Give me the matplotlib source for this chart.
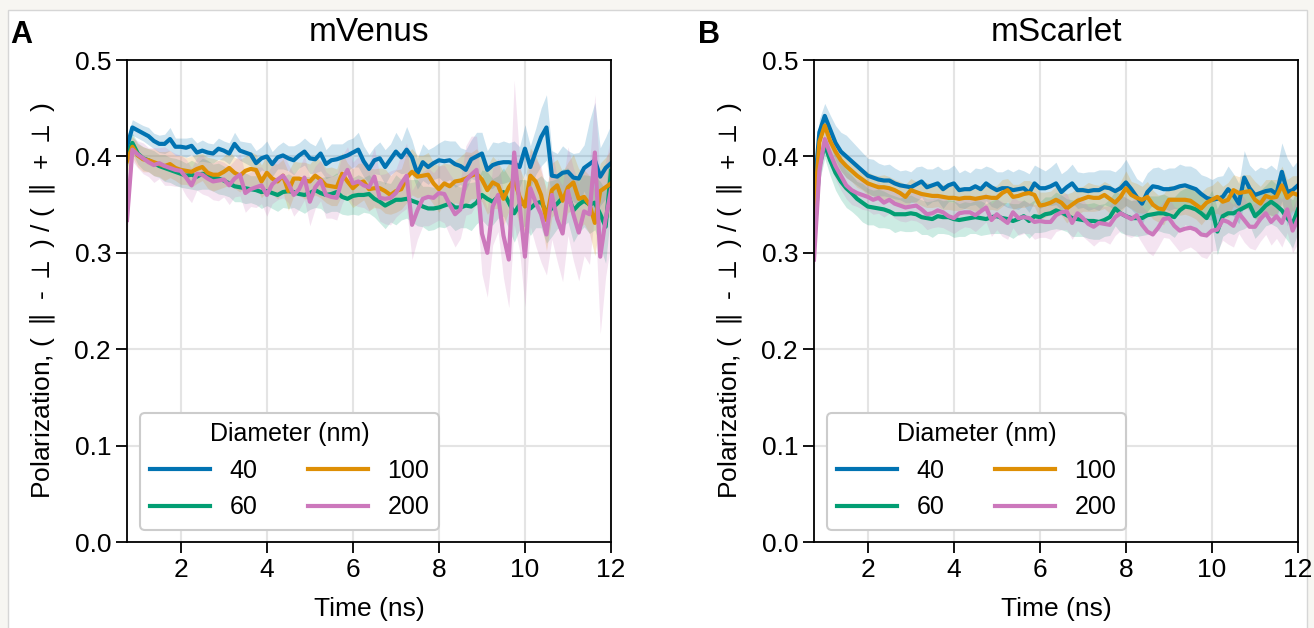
import numpy as np
import matplotlib
matplotlib.use('Agg')
import matplotlib.pyplot as plt
from matplotlib.patches import Rectangle

plt.rcParams['font.family'] = ['Liberation Sans', 'DejaVu Sans']

# time axis (ns), one sample every 0.125 ns
time_ns = np.linspace(0.75, 12.0, 91)
diameters = ['40', '60', '100', '200']
colors = ['#0173b2', '#029e73', '#de8f05', '#cc78bc']

# ---- mVenus: mean polarization ----
venus_40 = [0.410, 0.430, 0.427, 0.424, 0.421, 0.416, 0.413, 0.413, 0.418, 0.410,
            0.410, 0.409, 0.411, 0.404, 0.406, 0.404, 0.403, 0.408, 0.406, 0.403,
            0.413, 0.406, 0.404, 0.402, 0.393, 0.398, 0.400, 0.392, 0.399, 0.401,
            0.398, 0.396, 0.401, 0.405, 0.398, 0.397, 0.403, 0.392, 0.396, 0.397,
            0.399, 0.401, 0.404, 0.407, 0.395, 0.387, 0.396, 0.398, 0.389, 0.397,
            0.405, 0.399, 0.407, 0.399, 0.382, 0.394, 0.389, 0.393, 0.396, 0.395,
            0.396, 0.392, 0.390, 0.386, 0.397, 0.400, 0.403, 0.386, 0.391, 0.393,
            0.394, 0.394, 0.393, 0.389, 0.408, 0.389, 0.405, 0.420, 0.430, 0.380,
            0.379, 0.383, 0.384, 0.378, 0.377, 0.388, 0.392, 0.396, 0.379, 0.388,
            0.393]
venus_60 = [0.400, 0.414, 0.403, 0.398, 0.396, 0.393, 0.390, 0.388, 0.386, 0.384,
            0.382, 0.380, 0.381, 0.379, 0.382, 0.381, 0.378, 0.377, 0.375, 0.372,
            0.369, 0.368, 0.367, 0.366, 0.365, 0.363, 0.364, 0.362, 0.360, 0.363,
            0.364, 0.363, 0.361, 0.360, 0.362, 0.365, 0.362, 0.360, 0.361, 0.363,
            0.358, 0.356, 0.359, 0.360, 0.360, 0.361, 0.356, 0.353, 0.349, 0.352,
            0.355, 0.355, 0.356, 0.354, 0.352, 0.348, 0.346, 0.346, 0.347, 0.349,
            0.351, 0.347, 0.347, 0.349, 0.348, 0.352, 0.360, 0.356, 0.353, 0.358,
            0.363, 0.352, 0.341, 0.350, 0.352, 0.346, 0.351, 0.353, 0.342, 0.346,
            0.351, 0.357, 0.360, 0.344, 0.350, 0.354, 0.350, 0.352, 0.340, 0.327,
            0.385]
venus_100 = [0.395, 0.410, 0.401, 0.397, 0.396, 0.394, 0.392, 0.390, 0.392, 0.388,
             0.386, 0.385, 0.384, 0.387, 0.389, 0.383, 0.381, 0.381, 0.384, 0.388,
             0.383, 0.380, 0.385, 0.387, 0.386, 0.374, 0.383, 0.377, 0.374, 0.380,
             0.364, 0.377, 0.377, 0.375, 0.374, 0.380, 0.376, 0.370, 0.369, 0.368,
             0.382, 0.374, 0.367, 0.372, 0.374, 0.366, 0.367, 0.367, 0.364, 0.360,
             0.364, 0.366, 0.378, 0.384, 0.379, 0.380, 0.381, 0.372, 0.366, 0.372,
             0.369, 0.374, 0.375, 0.377, 0.380, 0.382, 0.376, 0.365, 0.373, 0.370,
             0.356, 0.368, 0.376, 0.358, 0.348, 0.380, 0.374, 0.360, 0.334, 0.365,
             0.370, 0.354, 0.368, 0.373, 0.356, 0.358, 0.350, 0.331, 0.364, 0.368,
             0.372]
venus_200 = [0.334, 0.407, 0.402, 0.398, 0.394, 0.391, 0.393, 0.390, 0.388, 0.386,
             0.385, 0.378, 0.370, 0.382, 0.381, 0.377, 0.374, 0.375, 0.376, 0.370,
             0.377, 0.381, 0.362, 0.366, 0.368, 0.370, 0.360, 0.371, 0.376, 0.380,
             0.372, 0.360, 0.366, 0.378, 0.353, 0.368, 0.375, 0.360, 0.358, 0.357,
             0.376, 0.386, 0.372, 0.374, 0.370, 0.368, 0.379, 0.357, 0.356, 0.357,
             0.362, 0.372, 0.380, 0.329, 0.344, 0.356, 0.358, 0.357, 0.362, 0.361,
             0.350, 0.340, 0.345, 0.375, 0.381, 0.386, 0.320, 0.300, 0.348, 0.360,
             0.318, 0.293, 0.404, 0.350, 0.296, 0.367, 0.352, 0.340, 0.319, 0.360,
             0.335, 0.320, 0.364, 0.340, 0.321, 0.343, 0.340, 0.404, 0.296, 0.335,
             0.365]

# ---- mVenus: spread (shaded band half width) ----
venus_40_sd = [0.010, 0.008, 0.008, 0.008, 0.009, 0.008, 0.009, 0.010, 0.012, 0.009,
               0.009, 0.010, 0.009, 0.010, 0.011, 0.010, 0.010, 0.011, 0.010, 0.011,
               0.012, 0.010, 0.011, 0.012, 0.013, 0.012, 0.016, 0.013, 0.012, 0.014,
               0.013, 0.015, 0.013, 0.014, 0.016, 0.014, 0.018, 0.015, 0.017, 0.016,
               0.014, 0.016, 0.015, 0.018, 0.016, 0.015, 0.014, 0.017, 0.018, 0.016,
               0.020, 0.017, 0.024, 0.018, 0.016, 0.019, 0.018, 0.017, 0.018, 0.022,
               0.020, 0.024, 0.019, 0.021, 0.020, 0.025, 0.022, 0.020, 0.024, 0.021,
               0.022, 0.020, 0.023, 0.021, 0.025, 0.022, 0.024, 0.030, 0.034, 0.026,
               0.024, 0.028, 0.022, 0.025, 0.027, 0.024, 0.045, 0.060, 0.030, 0.032,
               0.040]
venus_60_sd = [0.012, 0.010, 0.011, 0.012, 0.012, 0.013, 0.012, 0.014, 0.013, 0.014,
               0.014, 0.013, 0.015, 0.014, 0.016, 0.015, 0.014, 0.016, 0.015, 0.014,
               0.016, 0.015, 0.016, 0.014, 0.015, 0.017, 0.015, 0.016, 0.017, 0.016,
               0.018, 0.016, 0.017, 0.019, 0.017, 0.018, 0.016, 0.019, 0.018, 0.020,
               0.018, 0.017, 0.019, 0.021, 0.018, 0.020, 0.019, 0.022, 0.024, 0.020,
               0.026, 0.021, 0.020, 0.022, 0.024, 0.021, 0.023, 0.022, 0.020, 0.023,
               0.022, 0.024, 0.021, 0.023, 0.025, 0.022, 0.026, 0.028, 0.024, 0.022,
               0.025, 0.027, 0.030, 0.026, 0.024, 0.028, 0.025, 0.027, 0.032, 0.029,
               0.026, 0.030, 0.028, 0.033, 0.029, 0.027, 0.030, 0.028, 0.034, 0.038,
               0.040]
venus_100_sd = [0.012, 0.011, 0.012, 0.013, 0.012, 0.014, 0.013, 0.015, 0.014, 0.013,
                0.015, 0.014, 0.016, 0.015, 0.014, 0.016, 0.017, 0.015, 0.016, 0.018,
                0.016, 0.017, 0.015, 0.018, 0.016, 0.017, 0.019, 0.016, 0.018, 0.017,
                0.020, 0.018, 0.017, 0.019, 0.018, 0.020, 0.019, 0.018, 0.020, 0.019,
                0.022, 0.019, 0.020, 0.021, 0.019, 0.022, 0.020, 0.021, 0.023, 0.020,
                0.022, 0.021, 0.026, 0.024, 0.022, 0.021, 0.023, 0.022, 0.024, 0.021,
                0.023, 0.022, 0.025, 0.028, 0.024, 0.026, 0.023, 0.025, 0.027, 0.024,
                0.028, 0.025, 0.027, 0.030, 0.026, 0.029, 0.027, 0.025, 0.032, 0.028,
                0.027, 0.030, 0.026, 0.029, 0.031, 0.028, 0.030, 0.034, 0.029, 0.031,
                0.035]
venus_200_sd = [0.020, 0.012, 0.014, 0.016, 0.015, 0.018, 0.016, 0.020, 0.018, 0.017,
                0.016, 0.019, 0.018, 0.017, 0.020, 0.018, 0.019, 0.021, 0.018, 0.020,
                0.019, 0.022, 0.020, 0.018, 0.021, 0.019, 0.022, 0.020, 0.021, 0.023,
                0.020, 0.022, 0.021, 0.023, 0.025, 0.022, 0.021, 0.024, 0.022, 0.023,
                0.025, 0.024, 0.022, 0.026, 0.023, 0.025, 0.030, 0.024, 0.026, 0.028,
                0.025, 0.030, 0.034, 0.036, 0.030, 0.028, 0.030, 0.026, 0.028, 0.030,
                0.032, 0.034, 0.030, 0.036, 0.040, 0.035, 0.042, 0.046, 0.040, 0.038,
                0.044, 0.050, 0.075, 0.048, 0.052, 0.040, 0.045, 0.050, 0.042, 0.046,
                0.044, 0.050, 0.046, 0.048, 0.050, 0.046, 0.052, 0.060, 0.080, 0.060,
                0.055]

# ---- mScarlet: mean polarization ----
scarlet_40 = [0.360, 0.425, 0.442, 0.428, 0.414, 0.405, 0.400, 0.395, 0.390, 0.385,
              0.380, 0.378, 0.376, 0.375, 0.375, 0.372, 0.370, 0.369, 0.368, 0.371,
              0.374, 0.368, 0.370, 0.372, 0.366, 0.370, 0.372, 0.365, 0.366, 0.366,
              0.369, 0.366, 0.372, 0.368, 0.365, 0.367, 0.367, 0.365, 0.366, 0.367,
              0.362, 0.372, 0.367, 0.367, 0.369, 0.372, 0.363, 0.368, 0.372, 0.365,
              0.365, 0.364, 0.365, 0.365, 0.368, 0.367, 0.364, 0.367, 0.373, 0.366,
              0.358, 0.351, 0.363, 0.369, 0.368, 0.366, 0.366, 0.367, 0.369, 0.370,
              0.368, 0.366, 0.361, 0.357, 0.355, 0.356, 0.358, 0.366, 0.360, 0.351,
              0.378, 0.367, 0.360, 0.362, 0.364, 0.365, 0.361, 0.384, 0.363, 0.365,
              0.370]
scarlet_60 = [0.310, 0.390, 0.412, 0.396, 0.383, 0.374, 0.367, 0.362, 0.356, 0.352,
              0.348, 0.347, 0.346, 0.345, 0.343, 0.340, 0.340, 0.340, 0.341, 0.340,
              0.337, 0.336, 0.335, 0.338, 0.337, 0.337, 0.335, 0.334, 0.335, 0.336,
              0.337, 0.336, 0.335, 0.337, 0.338, 0.336, 0.335, 0.333, 0.335, 0.338,
              0.333, 0.338, 0.337, 0.340, 0.341, 0.344, 0.342, 0.339, 0.336, 0.335,
              0.334, 0.333, 0.333, 0.332, 0.334, 0.337, 0.346, 0.341, 0.338, 0.336,
              0.336, 0.336, 0.339, 0.340, 0.341, 0.341, 0.339, 0.337, 0.344, 0.348,
              0.347, 0.345, 0.341, 0.336, 0.346, 0.322, 0.338, 0.341, 0.341, 0.344,
              0.347, 0.350, 0.338, 0.343, 0.349, 0.353, 0.349, 0.344, 0.336, 0.330,
              0.345]
scarlet_100 = [0.340, 0.415, 0.432, 0.416, 0.405, 0.396, 0.390, 0.385, 0.380, 0.376,
               0.372, 0.370, 0.368, 0.368, 0.367, 0.365, 0.362, 0.358, 0.365, 0.363,
               0.361, 0.360, 0.359, 0.359, 0.358, 0.357, 0.357, 0.356, 0.357, 0.357,
               0.356, 0.357, 0.358, 0.357, 0.357, 0.362, 0.365, 0.358, 0.359, 0.361,
               0.362, 0.360, 0.349, 0.350, 0.352, 0.355, 0.352, 0.346, 0.350, 0.354,
               0.356, 0.358, 0.357, 0.357, 0.360, 0.356, 0.352, 0.358, 0.367, 0.360,
               0.357, 0.355, 0.358, 0.350, 0.346, 0.345, 0.355, 0.355, 0.355, 0.355,
               0.354, 0.350, 0.346, 0.352, 0.355, 0.358, 0.353, 0.355, 0.365, 0.362,
               0.363, 0.364, 0.355, 0.351, 0.359, 0.357, 0.358, 0.370, 0.357, 0.362,
               0.360]
scarlet_200 = [0.293, 0.385, 0.418, 0.403, 0.390, 0.380, 0.370, 0.365, 0.362, 0.360,
               0.358, 0.355, 0.357, 0.352, 0.355, 0.351, 0.349, 0.347, 0.348, 0.349,
               0.345, 0.340, 0.341, 0.344, 0.342, 0.338, 0.336, 0.341, 0.342, 0.342,
               0.339, 0.343, 0.347, 0.334, 0.340, 0.335, 0.331, 0.342, 0.336, 0.337,
               0.336, 0.332, 0.333, 0.332, 0.332, 0.339, 0.342, 0.343, 0.331, 0.341,
               0.336, 0.330, 0.327, 0.331, 0.330, 0.329, 0.337, 0.341, 0.338, 0.335,
               0.339, 0.329, 0.322, 0.319, 0.326, 0.335, 0.336, 0.328, 0.323, 0.325,
               0.326, 0.324, 0.319, 0.318, 0.323, 0.324, 0.334, 0.332, 0.328, 0.341,
               0.334, 0.327, 0.327, 0.335, 0.341, 0.332, 0.338, 0.331, 0.345, 0.323,
               0.335]

# ---- mScarlet: spread ----
scarlet_40_sd = [0.015, 0.014, 0.013, 0.015, 0.018, 0.020, 0.022, 0.021, 0.020, 0.019,
                 0.018, 0.019, 0.017, 0.016, 0.017, 0.016, 0.015, 0.017, 0.016, 0.018,
                 0.016, 0.019, 0.017, 0.018, 0.020, 0.017, 0.019, 0.018, 0.020, 0.017,
                 0.019, 0.021, 0.018, 0.020, 0.019, 0.017, 0.020, 0.019, 0.021, 0.018,
                 0.020, 0.019, 0.021, 0.018, 0.020, 0.022, 0.019, 0.018, 0.020, 0.019,
                 0.018, 0.020, 0.019, 0.021, 0.018, 0.019, 0.020, 0.022, 0.024, 0.021,
                 0.019, 0.022, 0.020, 0.019, 0.021, 0.020, 0.022, 0.021, 0.023, 0.020,
                 0.022, 0.021, 0.020, 0.022, 0.021, 0.023, 0.022, 0.024, 0.022, 0.021,
                 0.028, 0.024, 0.025, 0.027, 0.023, 0.026, 0.025, 0.030, 0.035, 0.024,
                 0.026]
scarlet_60_sd = [0.018, 0.016, 0.014, 0.016, 0.018, 0.019, 0.020, 0.019, 0.018, 0.020,
                 0.019, 0.018, 0.020, 0.019, 0.018, 0.019, 0.017, 0.018, 0.019, 0.017,
                 0.018, 0.017, 0.019, 0.018, 0.017, 0.018, 0.019, 0.017, 0.018, 0.016,
                 0.017, 0.018, 0.016, 0.017, 0.018, 0.016, 0.017, 0.018, 0.016, 0.017,
                 0.018, 0.017, 0.016, 0.018, 0.017, 0.019, 0.018, 0.017, 0.019, 0.018,
                 0.017, 0.018, 0.019, 0.018, 0.017, 0.019, 0.018, 0.020, 0.019, 0.018,
                 0.019, 0.018, 0.020, 0.019, 0.018, 0.020, 0.019, 0.021, 0.020, 0.019,
                 0.020, 0.019, 0.021, 0.020, 0.019, 0.024, 0.021, 0.020, 0.022, 0.021,
                 0.022, 0.021, 0.023, 0.022, 0.021, 0.023, 0.022, 0.024, 0.023, 0.025,
                 0.024]
scarlet_100_sd = [0.015, 0.012, 0.010, 0.011, 0.012, 0.011, 0.012, 0.011, 0.012, 0.011,
                  0.012, 0.011, 0.012, 0.013, 0.012, 0.011, 0.012, 0.013, 0.012, 0.011,
                  0.012, 0.013, 0.012, 0.011, 0.013, 0.012, 0.013, 0.012, 0.011, 0.012,
                  0.013, 0.012, 0.014, 0.012, 0.013, 0.014, 0.012, 0.013, 0.012, 0.014,
                  0.013, 0.012, 0.014, 0.013, 0.012, 0.014, 0.013, 0.015, 0.013, 0.014,
                  0.013, 0.015, 0.014, 0.013, 0.014, 0.015, 0.013, 0.016, 0.018, 0.014,
                  0.015, 0.014, 0.016, 0.015, 0.014, 0.016, 0.015, 0.014, 0.016, 0.015,
                  0.016, 0.015, 0.017, 0.016, 0.015, 0.017, 0.016, 0.018, 0.016, 0.017,
                  0.018, 0.017, 0.019, 0.018, 0.017, 0.019, 0.018, 0.020, 0.019, 0.018,
                  0.020]
scarlet_200_sd = [0.018, 0.014, 0.012, 0.013, 0.014, 0.015, 0.014, 0.015, 0.014, 0.015,
                  0.014, 0.015, 0.016, 0.015, 0.014, 0.015, 0.016, 0.015, 0.014, 0.016,
                  0.015, 0.016, 0.015, 0.017, 0.016, 0.015, 0.016, 0.017, 0.015, 0.016,
                  0.017, 0.016, 0.015, 0.017, 0.016, 0.018, 0.017, 0.016, 0.018, 0.017,
                  0.016, 0.018, 0.017, 0.016, 0.018, 0.017, 0.018, 0.019, 0.017, 0.018,
                  0.019, 0.018, 0.020, 0.019, 0.018, 0.020, 0.019, 0.018, 0.020, 0.019,
                  0.020, 0.019, 0.021, 0.022, 0.020, 0.019, 0.021, 0.020, 0.022, 0.021,
                  0.020, 0.022, 0.023, 0.024, 0.021, 0.022, 0.021, 0.023, 0.022, 0.021,
                  0.023, 0.022, 0.024, 0.023, 0.022, 0.024, 0.023, 0.025, 0.024, 0.023,
                  0.025]

panels = [
    ('A', 'mVenus', [venus_40, venus_60, venus_100, venus_200],
     [venus_40_sd, venus_60_sd, venus_100_sd, venus_200_sd]),
    ('B', 'mScarlet', [scarlet_40, scarlet_60, scarlet_100, scarlet_200],
     [scarlet_40_sd, scarlet_60_sd, scarlet_100_sd, scarlet_200_sd]),
]

fig = plt.figure(figsize=(13.14, 6.28), dpi=100)
fig.patch.set_facecolor('#f7f6f2')
fig.add_artist(Rectangle((0.006, -0.05), 0.9885, 1.034, transform=fig.transFigure,
                         facecolor='white', edgecolor='#d6d6d6', lw=1, zorder=-5))

ylab = r'Polarization, ( $\parallel$ - $\perp$ ) / ( $\parallel$ + $\perp$ )'

ax_left = [127 / 1314, 814 / 1314]
for k, (letter, name, means, sds) in enumerate(panels):
    ax = fig.add_axes([ax_left[k], 86 / 628, 484 / 1314, 482 / 628])
    for lab, col, m, sd in zip(diameters, colors, means, sds):
        m = np.array(m)
        sd = np.array(sd)
        ax.fill_between(time_ns, m - sd, m + sd, color=col, alpha=0.2, lw=0)
        ax.plot(time_ns, m, color=col, lw=3.0, label=lab)
    ax.set_xlim(0.75, 12)
    ax.set_ylim(0, 0.5)
    ax.set_xticks([2, 4, 6, 8, 10, 12])
    ax.set_yticks([0.0, 0.1, 0.2, 0.3, 0.4, 0.5])
    ax.grid(True, color='#e4e4e4', lw=1.5)
    ax.set_axisbelow(True)
    ax.tick_params(labelsize=19, length=8, width=1.3)
    for s in ax.spines.values():
        s.set_linewidth(1.3)
    ax.set_xlabel('Time (ns)', fontsize=19, labelpad=11)
    ax.set_ylabel(ylab, fontsize=19, labelpad=12)
    ax.set_title(name, fontsize=24, pad=14)
    leg = ax.legend(title='Diameter (nm)', ncol=2, loc='lower left', fontsize=18,
                    title_fontsize=18, handlelength=2.4, columnspacing=2.0,
                    framealpha=1, edgecolor='#cccccc')
    leg.get_frame().set_linewidth(1.5)
    fig.text([0.008, 0.531][k], 0.968, letter, fontsize=22, fontweight='bold', va='top')

plt.savefig('out.png', dpi=100, facecolor=fig.get_facecolor())
